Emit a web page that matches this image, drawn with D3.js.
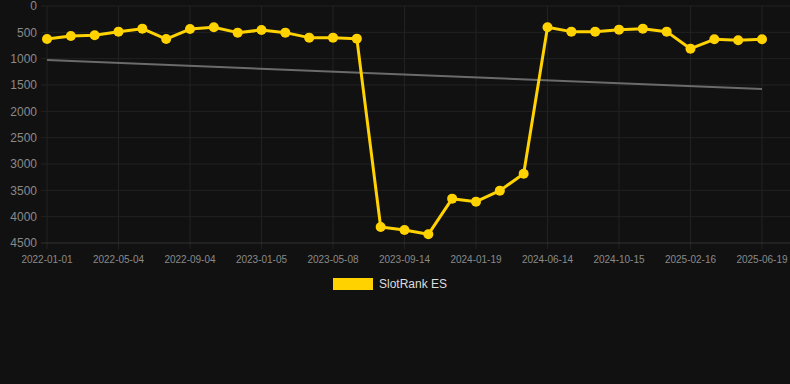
<!DOCTYPE html>
<html>
<head>
<meta charset="utf-8">
<script src="https://cdn.jsdelivr.net/npm/d3@7"></script>
<style>
  body { margin: 0; background: #111111; }
  #chart { width: 790px; height: 384px; }
  text { font-family: Arial, "Liberation Sans", sans-serif; }
</style>
</head>
<body>
<div id="chart"></div>
<script>
const dates = [
  "2022-01-01", "2022-02-11", "2022-03-24", "2022-05-04", "2022-06-14", "2022-07-25",
  "2022-09-04", "2022-10-15", "2022-11-25", "2023-01-05", "2023-02-15", "2023-03-28",
  "2023-05-08", "2023-06-20", "2023-08-02", "2023-09-14", "2023-10-26", "2023-12-07",
  "2024-01-19", "2024-03-06", "2024-04-28", "2024-06-14", "2024-07-25", "2024-09-04",
  "2024-10-15", "2024-11-25", "2025-01-05", "2025-02-16", "2025-03-29", "2025-05-09",
  "2025-06-19"
];
const rank = [
  627, 570, 557, 487, 430, 627, 437, 405, 506, 456, 506, 601, 601, 620,
  4196, 4253, 4335, 3658, 3715, 3506, 3184,
  405, 487, 487, 449, 430, 487, 810, 633, 652, 633
];
const trend = [1025, 1576];
const yTicks = [0, 500, 1000, 1500, 2000, 2500, 3000, 3500, 4000, 4500];
const seriesName = "SlotRank ES";

const w = 790;
const h = 384;
const margin = { left: 47, right: 28, top: 6, bottom: 141 };

const svg = d3
  .select("#chart")
  .append("svg")
  .attr("width", w)
  .attr("height", h);

svg.append("rect").attr("width", w).attr("height", h).attr("fill", "#111111");

const x = d3.scalePoint().domain(dates).range([margin.left, w - margin.right]);
const y = d3.scaleLinear().domain([0, 4500]).range([margin.top, h - margin.bottom]);

const tickDates = dates.filter((d, i) => i % 3 === 0);

// grid
svg
  .append("g")
  .selectAll("line")
  .data(tickDates)
  .join("line")
  .attr("x1", (d) => x(d))
  .attr("x2", (d) => x(d))
  .attr("y1", y(0))
  .attr("y2", y(4500) + 6)
  .attr("stroke", "#222222")
  .attr("stroke-width", 1);

svg
  .append("g")
  .selectAll("line")
  .data(yTicks)
  .join("line")
  .attr("x1", x(dates[0]) - 6)
  .attr("x2", w)
  .attr("y1", (d) => y(d))
  .attr("y2", (d) => y(d))
  .attr("stroke", (d) => (d === 4500 ? "#333333" : "#222222"))
  .attr("stroke-width", 1);

// y labels
svg
  .append("g")
  .selectAll("text")
  .data(yTicks)
  .join("text")
  .attr("x", 37)
  .attr("y", (d) => y(d))
  .attr("dy", "0.35em")
  .attr("text-anchor", "end")
  .attr("font-size", "12px")
  .attr("fill", "#8a8a8a")
  .text((d) => d);

// x labels
svg
  .append("g")
  .selectAll("text")
  .data(tickDates)
  .join("text")
  .attr("x", (d) => x(d))
  .attr("y", y(4500) + 16)
  .attr("dy", "0.35em")
  .attr("text-anchor", "middle")
  .attr("font-size", "10px")
  .attr("fill", "#8a8a8a")
  .text((d) => d);

// trend line
svg
  .append("line")
  .attr("x1", x(dates[0]))
  .attr("x2", x(dates[dates.length - 1]))
  .attr("y1", y(trend[0]))
  .attr("y2", y(trend[1]))
  .attr("stroke", "#6b6b6b")
  .attr("stroke-width", 2);

// series
const line = d3
  .line()
  .x((d, i) => x(dates[i]))
  .y((d) => y(d));

svg
  .append("path")
  .datum(rank)
  .attr("d", line)
  .attr("fill", "none")
  .attr("stroke", "#ffd200")
  .attr("stroke-width", 3)
  .attr("stroke-linejoin", "round");

svg
  .append("g")
  .selectAll("circle")
  .data(rank)
  .join("circle")
  .attr("cx", (d, i) => x(dates[i]))
  .attr("cy", (d) => y(d))
  .attr("r", 5)
  .attr("fill", "#ffd200");

// legend
const legend = svg.append("g").attr("transform", "translate(333, 278)");
legend
  .append("rect")
  .attr("width", 40)
  .attr("height", 12)
  .attr("fill", "#ffd200");
legend
  .append("text")
  .attr("x", 46)
  .attr("y", 6)
  .attr("dy", "0.35em")
  .attr("font-size", "12px")
  .attr("fill", "#dddddd")
  .text(seriesName);
</script>
</body>
</html>
